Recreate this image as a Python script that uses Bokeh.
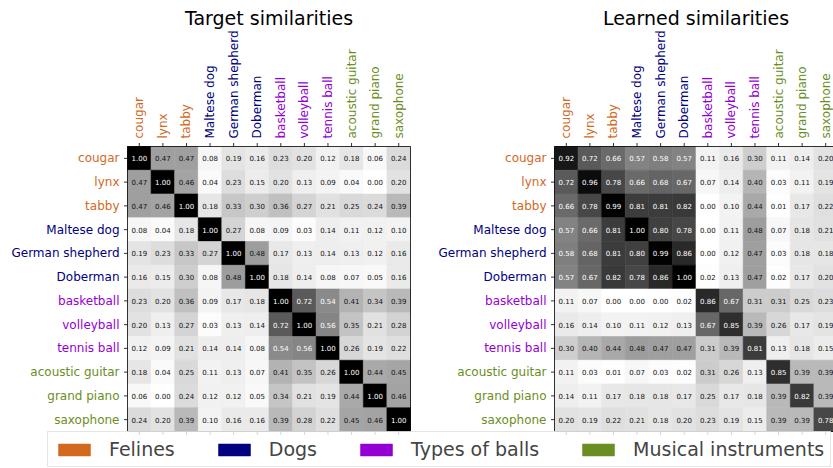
import numpy as np
from bokeh.plotting import figure
from bokeh.models import Range1d, ColumnDataSource, LinearColorMapper, Legend, LegendItem
from bokeh.transform import transform
from bokeh.core.properties import value
from bokeh.embed import file_html
from bokeh.resources import INLINE

# ---------------- data ----------------
labels = ["cougar", "lynx", "tabby", "Maltese dog", "German shepherd", "Doberman",
          "basketball", "volleyball", "tennis ball", "acoustic guitar", "grand piano", "saxophone"]
label_group = [0, 0, 0, 1, 1, 1, 2, 2, 2, 3, 3, 3]
group_names = ["Felines", "Dogs", "Types of balls", "Musical instruments"]
group_colors = ["#d2691e", "#000080", "#9400d3", "#6b8e23"]
titles = ["Target similarities", "Learned similarities"]

target = [
    [1.00, 0.47, 0.47, 0.08, 0.19, 0.16, 0.23, 0.20, 0.12, 0.18, 0.06, 0.24],
    [0.47, 1.00, 0.46, 0.04, 0.23, 0.15, 0.20, 0.13, 0.09, 0.04, 0.00, 0.20],
    [0.47, 0.46, 1.00, 0.18, 0.33, 0.30, 0.36, 0.27, 0.21, 0.25, 0.24, 0.39],
    [0.08, 0.04, 0.18, 1.00, 0.27, 0.08, 0.09, 0.03, 0.14, 0.11, 0.12, 0.10],
    [0.19, 0.23, 0.33, 0.27, 1.00, 0.48, 0.17, 0.13, 0.14, 0.13, 0.12, 0.16],
    [0.16, 0.15, 0.30, 0.08, 0.48, 1.00, 0.18, 0.14, 0.08, 0.07, 0.05, 0.16],
    [0.23, 0.20, 0.36, 0.09, 0.17, 0.18, 1.00, 0.72, 0.54, 0.41, 0.34, 0.39],
    [0.20, 0.13, 0.27, 0.03, 0.13, 0.14, 0.72, 1.00, 0.56, 0.35, 0.21, 0.28],
    [0.12, 0.09, 0.21, 0.14, 0.14, 0.08, 0.54, 0.56, 1.00, 0.26, 0.19, 0.22],
    [0.18, 0.04, 0.25, 0.11, 0.13, 0.07, 0.41, 0.35, 0.26, 1.00, 0.44, 0.45],
    [0.06, 0.00, 0.24, 0.12, 0.12, 0.05, 0.34, 0.21, 0.19, 0.44, 1.00, 0.46],
    [0.24, 0.20, 0.39, 0.10, 0.16, 0.16, 0.39, 0.28, 0.22, 0.45, 0.46, 1.00],
]

learned = [
    [0.92, 0.72, 0.66, 0.57, 0.58, 0.57, 0.11, 0.16, 0.30, 0.11, 0.14, 0.20],
    [0.72, 0.96, 0.78, 0.66, 0.68, 0.67, 0.07, 0.14, 0.40, 0.03, 0.11, 0.19],
    [0.66, 0.78, 0.99, 0.81, 0.81, 0.82, 0.00, 0.10, 0.44, 0.01, 0.17, 0.22],
    [0.57, 0.66, 0.81, 1.00, 0.80, 0.78, 0.00, 0.11, 0.48, 0.07, 0.18, 0.21],
    [0.58, 0.68, 0.81, 0.80, 0.99, 0.86, 0.00, 0.12, 0.47, 0.03, 0.18, 0.18],
    [0.57, 0.67, 0.82, 0.78, 0.86, 1.00, 0.02, 0.13, 0.47, 0.02, 0.17, 0.20],
    [0.11, 0.07, 0.00, 0.00, 0.00, 0.02, 0.86, 0.67, 0.31, 0.31, 0.25, 0.23],
    [0.16, 0.14, 0.10, 0.11, 0.12, 0.13, 0.67, 0.85, 0.39, 0.26, 0.17, 0.19],
    [0.30, 0.40, 0.44, 0.48, 0.47, 0.47, 0.31, 0.39, 0.81, 0.13, 0.18, 0.15],
    [0.11, 0.03, 0.01, 0.07, 0.03, 0.02, 0.31, 0.26, 0.13, 0.85, 0.39, 0.39],
    [0.14, 0.11, 0.17, 0.18, 0.18, 0.17, 0.25, 0.17, 0.18, 0.39, 0.82, 0.39],
    [0.20, 0.19, 0.22, 0.21, 0.18, 0.20, 0.23, 0.19, 0.15, 0.39, 0.39, 0.78],
]

# ---------------- layout (pixels) ----------------
W, H = 833, 468
CW, CH = 283 / 12, 285 / 12   # pixel size of one matrix cell
X0 = [127, 554]               # canvas x of each matrix's left edge
Y0 = 146                      # canvas y of matrices' top edge
TICK = 3.5
PAD = 4.5
FONT = value("DejaVu Sans")

n = len(labels)
offsets = [(x - X0[0]) / CW for x in X0]

# greys colormap (white -> black)
greys9 = ['#ffffff', '#f0f0f0', '#d9d9d9', '#bdbdbd', '#969696',
          '#737373', '#525252', '#252525', '#000000']
rgb = np.array([[int(h[i:i + 2], 16) for i in (1, 3, 5)] for h in greys9], float)
pal = []
for k in range(256):
    t = k / 255 * 8
    i = min(int(t), 7)
    f = t - i
    c = (1 - f) * rgb[i] + f * rgb[i + 1]
    pal.append("#%02x%02x%02x" % tuple(int(round(v)) for v in c))
mapper = LinearColorMapper(palette=pal, low=0.0, high=1.0)

p = figure(width=W, height=H, output_backend="svg", toolbar_location=None,
           x_axis_location=None, y_axis_location=None, min_border=0,
           x_range=Range1d(-X0[0] / CW, (W - X0[0]) / CW),
           y_range=Range1d((H - Y0) / CH, -Y0 / CH))
p.outline_line_color = None
p.grid.visible = False
p.background_fill_color = "white"
p.border_fill_color = "white"

lab_colors = [group_colors[g] for g in label_group]

for m, (mat, off, title) in enumerate(zip([target, learned], offsets, titles)):
    M = np.array(mat)
    ii, jj = np.meshgrid(np.arange(n), np.arange(n), indexing="ij")
    vals = M.ravel()
    src = ColumnDataSource(dict(
        x=off + jj.ravel() + 0.5,
        y=ii.ravel() + 0.5,
        v=vals,
        txt=["%.2f" % v for v in vals],
        tcol=["white" if v > 0.5 else "#111111" for v in vals],
    ))
    p.rect("x", "y", width=1, height=1, source=src,
           fill_color=transform("v", mapper), line_color=transform("v", mapper),
           line_width=0.6)
    p.text("x", "y", text="txt", source=src, text_color="tcol",
           text_font=FONT, text_font_size="7px",
           text_align="center", text_baseline="middle")
    # frame
    p.rect(x=[off + n / 2], y=[n / 2], width=n, height=n,
           fill_color=None, line_color="black", line_width=0.8)
    # ticks: left, top, bottom
    idx = np.arange(n) + 0.5
    tx, ty = TICK / CW, TICK / CH
    p.segment(x0=[off - tx] * n, y0=idx, x1=[off] * n, y1=idx,
              line_color="black", line_width=0.8)
    p.segment(x0=off + idx, y0=[-ty] * n, x1=off + idx, y1=[0] * n,
              line_color="black", line_width=0.8)
    p.segment(x0=off + idx, y0=[n] * n, x1=off + idx, y1=[n + ty] * n,
              line_color="black", line_width=0.8)
    # left labels
    p.text(x=[off - (TICK + PAD) / CW] * n, y=idx, text=labels,
           text_color=lab_colors, text_font=FONT, text_font_size="12px",
           text_align="right", text_baseline="middle")
    # top labels
    p.text(x=off + idx, y=[-(TICK + PAD) / CH] * n, text=labels, angle=np.pi / 2,
           text_color=lab_colors, text_font=FONT, text_font_size="12px",
           text_align="left", text_baseline="middle")
    # title
    p.text(x=[off + n / 2], y=[(17.5 - Y0) / CH], text=[title],
           text_color="black", text_font=FONT, text_font_size="19px",
           text_align="center", text_baseline="middle")

# legend (proxy renderers placed outside the visible range)
items = []
for name, col in zip(group_names, group_colors):
    r = p.rect(x=np.array([np.nan]), y=np.array([np.nan]), width=1, height=1,
               fill_color=col, line_color=col, line_alpha=0.5)
    items.append(LegendItem(label=name, renderers=[r]))
legend = Legend(items=items, orientation="horizontal", location=(47, 1),
                label_text_font="DejaVu Sans", label_text_font_size="19px",
                glyph_width=40, glyph_height=15, label_standoff=15, spacing=39,
                padding=6, margin=0, border_line_color="#cccccc",
                border_line_width=1, background_fill_alpha=0.8)
p.add_layout(legend, "center")

open("out.html", "w").write(file_html(p, INLINE))
